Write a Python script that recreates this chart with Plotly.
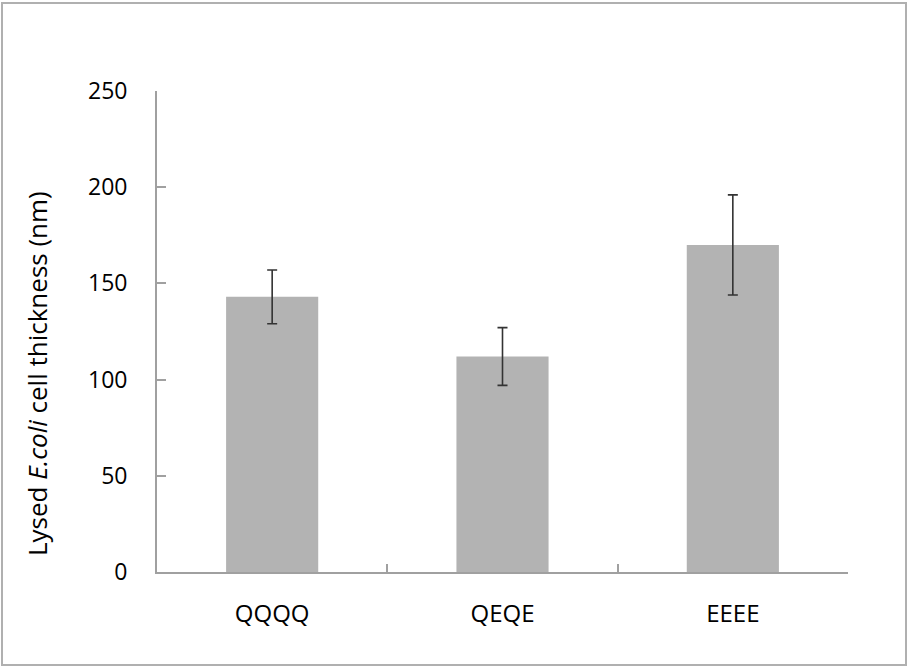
import plotly.graph_objects as go

categories = ["QQQQ", "QEQE", "EEEE"]
values = [143, 112, 170]
errors = [14, 15, 26]
y_ticks = [0, 50, 100, 150, 200, 250]
y_title = "Lysed <i>E.coli</i> cell thickness (nm)"

W, H = 909, 668
ml, mr, mt, mb = 157, 61, 91, 96
pw, ph = W - ml - mr, H - mt - mb

fig = go.Figure()
fig.add_trace(go.Bar(
    x=categories, y=values,
    marker=dict(color="#b3b3b3", line=dict(width=0)),
    width=0.4,
    error_y=dict(type="data", array=errors, visible=True,
                 color="#333333", thickness=1.6, width=5),
))

font = "Open Sans, Liberation Sans, sans-serif"
axis_col = "#a0a0a0"
fig.update_layout(
    width=W, height=H,
    margin=dict(l=ml, r=mr, t=mt, b=mb),
    paper_bgcolor="white", plot_bgcolor="white",
    showlegend=False,
    font=dict(family=font, size=22, color="black"),
    xaxis=dict(
        showline=True, linecolor=axis_col, linewidth=1.8,
        ticks="inside", tickson="boundaries", ticklen=8, tickwidth=1.8,
        tickcolor=axis_col, showgrid=False,
        tickfont=dict(size=24), ticklabelstandoff=19,
    ),
    yaxis=dict(
        range=[0, 250], tickvals=y_ticks,
        showline=True, linecolor=axis_col, linewidth=1.8,
        ticks="inside", ticklen=9, tickwidth=1.8, tickcolor=axis_col,
        showgrid=False, zeroline=False,
        tickfont=dict(size=23), ticklabelstandoff=23,
    ),
)

fig.add_annotation(
    text=y_title, textangle=-90, showarrow=False,
    xref="paper", yref="paper",
    x=(37 - ml) / pw, y=(H - mb - 374) / ph,
    xanchor="center", yanchor="middle",
    font=dict(size=26),
)

# outer border around whole chart area
fig.add_shape(type="rect", xref="paper", yref="paper",
              x0=(2 - ml) / pw, x1=(906 - ml) / pw,
              y0=(H - 665 - mb) / ph, y1=(H - 3 - mb) / ph,
              line=dict(color="#b0b0b0", width=2), fillcolor="rgba(0,0,0,0)",
              layer="below")

fig.write_html("out.html",
               config={"displayModeBar": False},
               post_script="document.body.style.margin='0';")
